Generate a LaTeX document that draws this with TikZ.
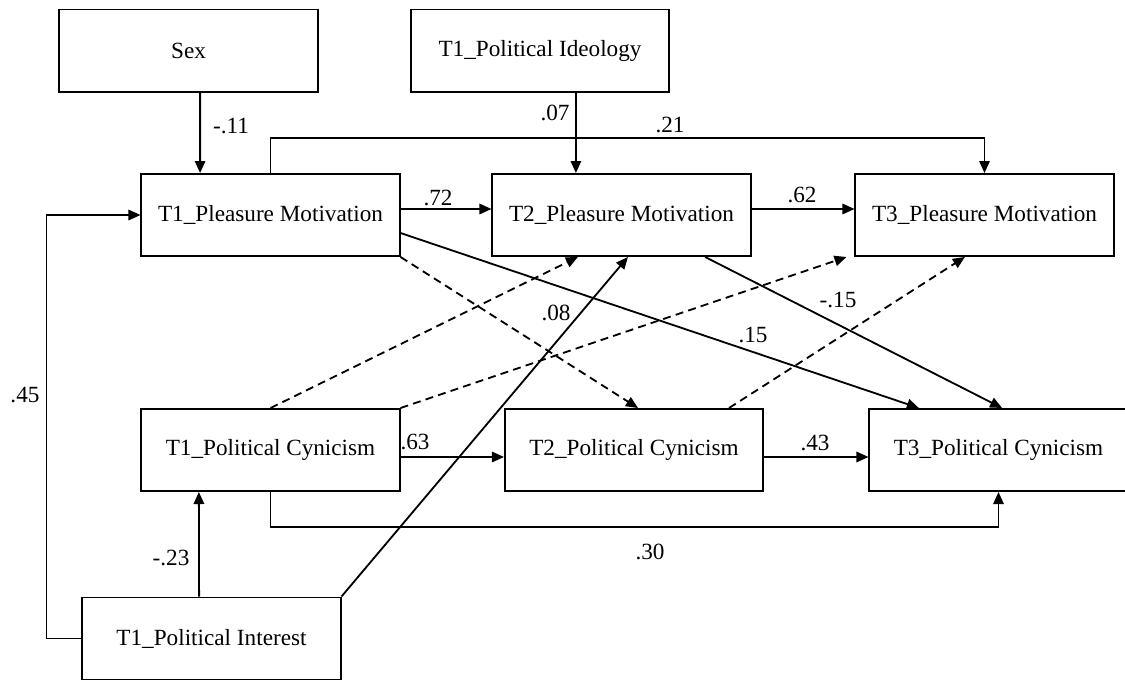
\documentclass[tikz,border=0pt]{standalone}
\usepackage{fontspec}
\setmainfont{Liberation Serif}
\usetikzlibrary{arrows.meta}

\begin{document}
\begin{tikzpicture}[x=0.025cm,y=-0.025cm,
  every node/.style={font=\fontsize{16.5}{19}\selectfont},
  box/.style={draw,line width=1.4pt,minimum width=6.45cm,minimum height=2.05cm,inner sep=0pt},
  arr/.style={line width=1.3pt,-{Triangle[length=0.3cm,width=0.26cm]}},
  dsh/.style={arr,dash pattern=on 0.2cm off 0.13cm},
  lbl/.style={inner sep=0pt}]
\useasboundingbox (0,0) rectangle (1125,679);

\node[box] (sex) at (188.5,50.5) {Sex};
\node[box] (ideo) at (540,50.5) {T1\_Political Ideology};
\node[box] (pm1) at (270.5,215) {T1\_Pleasure Motivation};
\node[box] (pm2) at (621.5,215) {T2\_Pleasure Motivation};
\node[box] (pm3) at (984.5,215) {T3\_Pleasure Motivation};
\node[box] (pc1) at (270.5,450) {T1\_Political Cynicism};
\node[box] (pc2) at (634,450) {T2\_Political Cynicism};
\node[box] (pc3) at (998.5,450) {T3\_Political Cynicism};
\node[box] (pi1) at (211.5,638.5) {T1\_Political Interest};

\draw[arr] ([xshift=0.29cm]sex.south) -- ([xshift=-1.76cm]pm1.north);
\draw[arr] ([xshift=0.9cm]ideo.south) -- ([xshift=-1.14cm]pm2.north);
\draw[arr] (pm1.north) -- ++(0,-35) -| (pm3.north);
\draw[arr] ([yshift=0.15cm]pm1.east) -- ([yshift=0.15cm]pm2.west);
\draw[arr] ([yshift=0.15cm]pm2.east) -- ([yshift=0.15cm]pm3.west);
\draw[arr] (pi1.west) -- ++(-35,0) |- (pm1.west);
\draw[arr] ([xshift=-0.31cm]pi1.north) -- ([xshift=-1.79cm]pc1.south);
\draw[arr] (pi1.north east) -- ([xshift=0.16cm]pm2.south);
\draw[arr] ([yshift=-0.175cm]pc1.east) -- ([yshift=-0.175cm]pc2.west);
\draw[arr] ([yshift=-0.175cm]pc2.east) -- ([yshift=-0.175cm]pc3.west);
\draw[arr] (pc1.south) -- ++(0,35) -| (pc3.south);
\draw[arr] ([yshift=-0.45cm]pm1.east) -- ([xshift=-1.99cm]pc3.north);
\draw[arr] ([xshift=2.09cm]pm2.south) -- ([xshift=0.09cm]pc3.north);

\draw[dsh] (pc1.north) -- ([xshift=-1.09cm]pm2.south);
\draw[dsh] (pc1.north east) -- ([xshift=-0.2cm]pm3.south west);
\draw[dsh] ([xshift=2.375cm]pc2.north) -- ([xshift=-0.49cm]pm3.south);
\draw[dsh] (pm1.south east) -- ([xshift=0.1cm]pc2.north);

\node[lbl] (b1) at (231,126) {-.11};
\node[lbl] (b2) at (555,113) {.07};
\node[lbl] (b3) at (670,125) {.21};
\node[lbl] (b4) at (438,198) {.72};
\node[lbl] (b5) at (802,195) {.62};
\node[lbl] (b6) at (25,395) {.45};
\node[lbl] (b7) at (171,558) {-.23};
\node[lbl] (b8) at (556,313) {.08};
\node[lbl] (b9) at (415,442) {.63};
\node[lbl] (b10) at (815,443) {.43};
\node[lbl] (b11) at (650,552) {.30};
\node[lbl] (b12) at (838,300) {-.15};
\node[lbl] (b13) at (753,335) {.15};

\end{tikzpicture}
\end{document}
